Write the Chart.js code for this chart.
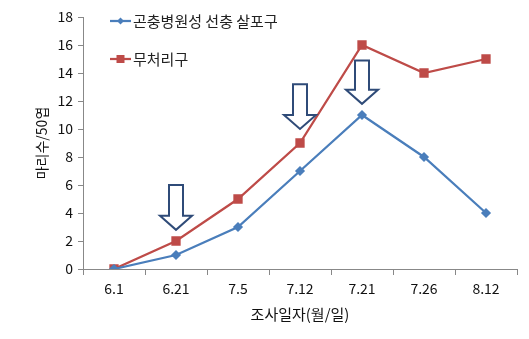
<!DOCTYPE html>
<html>
<head>
<meta charset="utf-8">
<script src="https://cdn.jsdelivr.net/npm/chart.js@4"></script>
<style>
  html, body { margin: 0; padding: 0; background: #fff; }
  #wrap { width: 529px; height: 339px; }
</style>
</head>
<body>
<div id="wrap"><canvas id="chart"></canvas></div>
<script>
// Data
const dates = ['6.1', '6.21', '7.5', '7.12', '7.21', '7.26', '8.12'];
const treated = [0, 1, 3, 7, 11, 8, 4];
const control = [0, 2, 5, 9, 16, 14, 15];
const seriesNames = ['곤충병원성 선충 살포구', '무처리구'];

// spray arrows (category, top value, tip value)
const arrowDates = ['6.21', '7.12', '7.21'];
const arrowTop = [6.0, 13.2, 14.9];
const arrowTip = [2.8, 10.0, 11.8];

const FONT = "'Noto Sans CJK KR', 'Noto Sans', sans-serif";
const BLUE = '#4A7EBB';
const RED = '#BE4B48';

const arrowPlugin = {
  id: 'arrows',
  afterDatasetsDraw(chart) {
    const {ctx, scales: {x, y}} = chart;
    ctx.save();
    ctx.strokeStyle = '#2F4B78';
    ctx.fillStyle = '#fff';
    ctx.lineWidth = 2;
    arrowDates.forEach((d, i) => {
      const cx = x.getPixelForValue(dates.indexOf(d));
      const top = y.getPixelForValue(arrowTop[i]);
      const tip = y.getPixelForValue(arrowTip[i]);
      const headY = tip - 14;
      ctx.beginPath();
      ctx.moveTo(cx - 7, top);
      ctx.lineTo(cx + 7, top);
      ctx.lineTo(cx + 7, headY);
      ctx.lineTo(cx + 16, headY);
      ctx.lineTo(cx, tip);
      ctx.lineTo(cx - 16, headY);
      ctx.lineTo(cx - 7, headY);
      ctx.closePath();
      ctx.fill();
      ctx.stroke();
    });
    ctx.restore();
  }
};

const legendPlugin = {
  id: 'innerLegend',
  afterDraw(chart) {
    const {ctx} = chart;
    ctx.save();
    ctx.font = '15px ' + FONT;
    ctx.textBaseline = 'middle';
    chart.data.datasets.forEach((ds, i) => {
      const ly = 21 + i * 38;
      ctx.strokeStyle = ds.borderColor;
      ctx.lineWidth = 2.25;
      ctx.beginPath();
      ctx.moveTo(110, ly);
      ctx.lineTo(131, ly);
      ctx.stroke();
      ctx.fillStyle = ds.borderColor;
      ctx.beginPath();
      if (ds.pointStyle === 'rect') {
        ctx.rect(116.5, ly - 4, 8, 8);
      } else {
        ctx.moveTo(120.5, ly - 3.5);
        ctx.lineTo(124, ly);
        ctx.lineTo(120.5, ly + 3.5);
        ctx.lineTo(117, ly);
        ctx.closePath();
      }
      ctx.fill();
      ctx.fillStyle = '#222';
      ctx.fillText(ds.label, 133, ly);
    });
    ctx.restore();
  }
};

new Chart(document.getElementById('chart'), {
  type: 'line',
  data: {
    labels: dates,
    datasets: [{
      label: seriesNames[0],
      data: treated,
      borderColor: BLUE,
      backgroundColor: BLUE,
      borderWidth: 2.25,
      pointStyle: 'rectRot',
      pointRadius: 3.5,
      tension: 0
    }, {
      label: seriesNames[1],
      data: control,
      borderColor: RED,
      backgroundColor: RED,
      borderWidth: 2.25,
      pointStyle: 'rect',
      pointRadius: 5,
      tension: 0
    }]
  },
  options: {
    responsive: true,
    maintainAspectRatio: false,
    animation: false,
    layout: {padding: {left: 29, right: 12, top: 17, bottom: 12}},
    plugins: {legend: {display: false}, tooltip: {enabled: false}},
    scales: {
      x: {
        offset: true,
        grid: {offset: true, drawOnChartArea: false, tickLength: 6, color: '#888'},
        border: {color: '#888'},
        ticks: {color: '#111', font: {family: FONT, size: 14}, padding: 5, maxRotation: 0},
        title: {display: true, text: '조사일자(월/일)', color: '#111', font: {family: FONT, size: 15}},
        afterFit(scale) { scale.height = 58; }
      },
      y: {
        min: 0,
        max: 18,
        ticks: {stepSize: 2, color: '#111', font: {family: FONT, size: 14}, padding: 5},
        grid: {drawOnChartArea: false, tickLength: 5, color: '#888'},
        border: {color: '#888'},
        title: {display: true, text: '마리수/50엽', color: '#111', font: {family: FONT, size: 14}},
        afterFit(scale) { scale.width = 54; }
      }
    }
  },
  plugins: [arrowPlugin, legendPlugin]
});
</script>
</body>
</html>
